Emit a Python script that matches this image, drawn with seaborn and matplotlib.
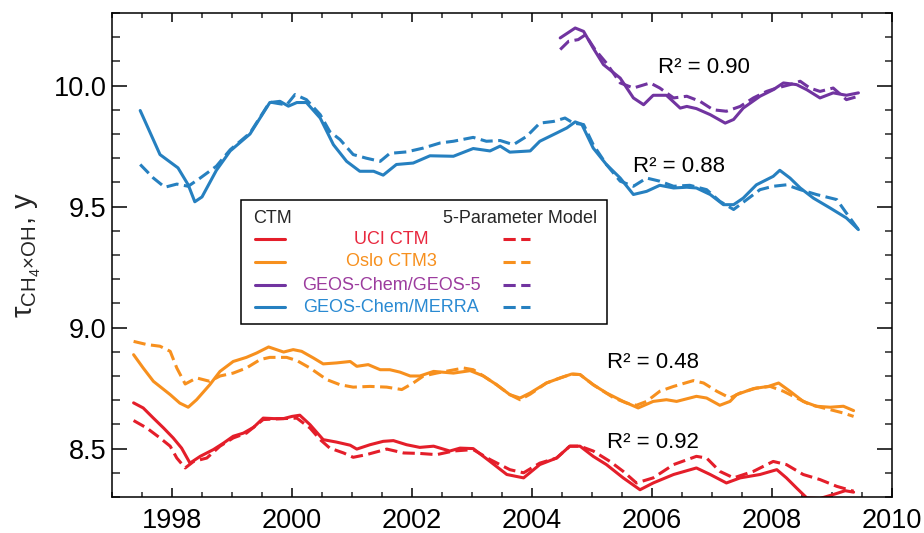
import numpy as np
import pandas as pd
import matplotlib
matplotlib.use("Agg")
import matplotlib.pyplot as plt
from matplotlib.ticker import MultipleLocator, FormatStrFormatter
from matplotlib.patches import Rectangle
from matplotlib.lines import Line2D
import seaborn as sns

# ---------------- data ----------------
uci_ctm_x = [1997.36,1997.52,1997.69,1997.86,1998.02,1998.16,1998.30,1998.47,1998.69,1998.86,
             1999.02,1999.19,1999.36,1999.52,1999.69,1999.86,2000.00,2000.13,2000.30,2000.52,
             2000.74,2000.97,2001.08,2001.30,2001.52,2001.69,2001.91,2002.13,2002.36,2002.63,
             2002.80,2003.02,2003.30,2003.58,2003.86,2004.13,2004.41,2004.63,2004.80,2005.02,
             2005.24,2005.52,2005.80,2006.02,2006.36,2006.74,2006.97,2007.24,2007.47,2007.80,
             2008.08,2008.24,2008.41,2008.58,2008.80,2009.02,2009.22,2009.36]
uci_ctm_y = [8.689,8.668,8.626,8.585,8.544,8.502,8.440,8.468,8.496,8.523,
             8.551,8.564,8.588,8.626,8.624,8.624,8.633,8.638,8.599,8.537,
             8.527,8.514,8.498,8.516,8.530,8.533,8.516,8.505,8.510,8.490,
             8.502,8.500,8.447,8.393,8.379,8.434,8.461,8.510,8.510,8.468,
             8.434,8.379,8.330,8.358,8.393,8.420,8.393,8.358,8.379,8.393,
             8.413,8.379,8.337,8.296,8.294,8.310,8.326,8.320]

uci_model_x = [1997.36,1997.58,1997.80,1997.97,1998.08,1998.22,1998.36,1998.58,1998.80,1999.02,
               1999.24,1999.52,1999.86,2000.08,2000.30,2000.47,2000.63,2000.86,2001.02,2001.24,
               2001.58,2001.86,2002.13,2002.41,2002.69,2003.02,2003.30,2003.63,2003.86,2004.13,
               2004.41,2004.63,2004.80,2005.02,2005.30,2005.52,2005.74,2006.02,2006.36,2006.74,
               2006.91,2007.13,2007.36,2007.69,2008.02,2008.24,2008.52,2008.80,2009.08,2009.36]
uci_model_y = [8.616,8.585,8.544,8.510,8.461,8.420,8.447,8.461,8.510,8.544,
               8.564,8.620,8.624,8.626,8.585,8.537,8.502,8.482,8.464,8.475,
               8.498,8.482,8.480,8.475,8.490,8.496,8.455,8.413,8.400,8.440,
               8.461,8.510,8.510,8.490,8.447,8.406,8.358,8.379,8.434,8.468,
               8.461,8.406,8.379,8.406,8.447,8.434,8.393,8.372,8.344,8.324]

oslo_ctm_x = [1997.36,1997.52,1997.69,1997.97,1998.13,1998.27,1998.41,1998.63,1998.80,1999.02,
              1999.24,1999.41,1999.61,1999.86,2000.02,2000.16,2000.36,2000.52,2000.74,2000.97,
              2001.08,2001.27,2001.47,2001.63,2001.80,2001.97,2002.13,2002.36,2002.69,2002.97,
              2003.19,2003.41,2003.63,2003.80,2003.97,2004.24,2004.47,2004.66,2004.80,2005.02,
              2005.24,2005.52,2005.77,2006.02,2006.24,2006.41,2006.74,2006.91,2007.13,2007.30,
              2007.41,2007.69,2007.94,2008.11,2008.30,2008.52,2008.74,2008.97,2009.19,2009.36]
oslo_ctm_y = [8.888,8.833,8.778,8.723,8.688,8.671,8.702,8.764,8.819,8.860,
              8.877,8.895,8.920,8.899,8.909,8.902,8.874,8.850,8.854,8.860,
              8.840,8.847,8.826,8.826,8.816,8.800,8.800,8.819,8.812,8.822,
              8.800,8.764,8.723,8.709,8.730,8.771,8.792,8.808,8.806,8.764,
              8.730,8.695,8.668,8.695,8.702,8.695,8.716,8.709,8.679,8.695,
              8.723,8.748,8.757,8.771,8.737,8.695,8.675,8.671,8.675,8.657]

oslo_model_x = [1997.36,1997.58,1997.80,1997.97,1998.08,1998.22,1998.41,1998.63,1998.80,1999.02,
                1999.24,1999.47,1999.63,1999.91,2000.08,2000.30,2000.58,2000.80,2001.02,2001.30,
                2001.58,2001.83,2002.02,2002.19,2002.41,2002.86,2003.02,2003.19,2003.41,2003.63,
                2003.80,2003.97,2004.24,2004.47,2004.66,2004.80,2005.02,2005.36,2005.58,2005.74,
                2005.91,2006.13,2006.36,2006.69,2006.86,2007.08,2007.30,2007.47,2007.74,2007.97,
                2008.19,2008.47,2008.63,2008.97,2009.19,2009.36]
oslo_model_y = [8.943,8.930,8.923,8.902,8.833,8.767,8.792,8.778,8.800,8.812,
                8.833,8.868,8.877,8.877,8.864,8.833,8.785,8.764,8.754,8.757,
                8.754,8.744,8.771,8.800,8.812,8.833,8.826,8.800,8.764,8.723,
                8.702,8.725,8.771,8.792,8.808,8.806,8.764,8.710,8.688,8.679,
                8.695,8.737,8.757,8.781,8.771,8.737,8.709,8.730,8.750,8.757,
                8.737,8.702,8.682,8.661,8.647,8.633]

geos5_ctm_x = [2004.47,2004.72,2004.86,2005.02,2005.19,2005.47,2005.69,2005.86,2006.02,2006.24,
               2006.47,2006.58,2006.74,2006.97,2007.22,2007.36,2007.52,2007.80,2008.02,2008.19,
               2008.41,2008.58,2008.80,2009.02,2009.24,2009.44]
geos5_ctm_y = [10.197,10.238,10.224,10.155,10.087,10.031,9.949,9.921,9.960,9.960,
               9.907,9.914,9.905,9.880,9.845,9.860,9.907,9.956,9.983,10.011,
               10.004,9.983,9.949,9.970,9.960,9.970]

geos5_model_x = [2004.47,2004.61,2004.77,2004.89,2005.05,2005.24,2005.47,2005.69,2005.97,2006.13,
                 2006.36,2006.58,2006.80,2007.02,2007.24,2007.47,2007.69,2007.91,2008.08,2008.30,
                 2008.47,2008.63,2008.80,2009.02,2009.24,2009.44]
geos5_model_y = [10.149,10.183,10.190,10.210,10.149,10.093,10.011,9.990,10.011,9.990,
                 9.949,9.956,9.935,9.900,9.894,9.914,9.949,9.976,9.990,10.004,
                 10.018,9.990,9.976,9.990,9.942,9.956]

merra_ctm_x = [1997.47,1997.80,1998.10,1998.27,1998.38,1998.50,1998.74,1998.97,1999.30,1999.63,
               1999.80,1999.94,2000.08,2000.24,2000.47,2000.69,2000.91,2001.13,2001.36,2001.52,
               2001.74,2002.02,2002.30,2002.69,2003.02,2003.30,2003.47,2003.63,2003.97,2004.13,
               2004.41,2004.58,2004.72,2004.83,2005.02,2005.24,2005.47,2005.69,2005.91,2006.13,
               2006.36,2006.58,2006.74,2006.97,2007.19,2007.36,2007.52,2007.74,2008.02,2008.13,
               2008.30,2008.47,2008.69,2008.97,2009.24,2009.44]
merra_ctm_y = [9.897,9.715,9.660,9.590,9.520,9.540,9.650,9.730,9.800,9.930,
               9.935,9.915,9.930,9.930,9.866,9.756,9.687,9.646,9.646,9.630,
               9.674,9.680,9.710,9.708,9.740,9.730,9.750,9.725,9.730,9.770,
               9.804,9.825,9.850,9.840,9.742,9.674,9.618,9.550,9.563,9.588,
               9.577,9.580,9.577,9.550,9.508,9.508,9.535,9.590,9.625,9.650,
               9.618,9.577,9.535,9.494,9.453,9.405]

merra_model_x = [1997.47,1997.69,1997.88,1998.08,1998.27,1998.47,1998.74,1998.97,1999.30,1999.63,
                 1999.91,2000.05,2000.24,2000.47,2000.63,2000.80,2001.02,2001.24,2001.47,2001.63,
                 2001.91,2002.19,2002.47,2002.69,2003.02,2003.24,2003.47,2003.69,2003.91,2004.13,
                 2004.36,2004.55,2004.69,2004.86,2005.02,2005.24,2005.47,2005.69,2005.91,2006.13,
                 2006.36,2006.63,2006.91,2007.13,2007.36,2007.58,2007.80,2008.02,2008.24,2008.47,
                 2008.74,2009.08,2009.22,2009.44]
merra_model_y = [9.674,9.618,9.580,9.593,9.584,9.618,9.667,9.735,9.804,9.932,
                 9.920,9.963,9.942,9.880,9.810,9.777,9.715,9.700,9.687,9.720,
                 9.726,9.742,9.763,9.770,9.786,9.770,9.773,9.756,9.790,9.845,
                 9.852,9.866,9.845,9.839,9.756,9.674,9.605,9.584,9.618,9.605,
                 9.584,9.588,9.570,9.522,9.488,9.529,9.570,9.584,9.590,9.570,
                 9.550,9.529,9.480,9.405]

models = ["UCI CTM", "Oslo CTM3", "GEOS-Chem/GEOS-5", "GEOS-Chem/MERRA"]
r2_labels = ["R\u00b2 = 0.92", "R\u00b2 = 0.48", "R\u00b2 = 0.90", "R\u00b2 = 0.88"]
r2_x = [2005.25, 2005.25, 2006.1, 2005.68]
r2_y = [8.527, 8.857, 10.074, 9.667]
x_ticks = [1998, 2000, 2002, 2004, 2006, 2008, 2010]
y_ticks = [8.5, 9.0, 9.5, 10.0]

line_colors = {"UCI CTM": "#E41E2A", "Oslo CTM3": "#F7901E",
               "GEOS-Chem/GEOS-5": "#7134A0", "GEOS-Chem/MERRA": "#2680C0"}
text_colors = {"UCI CTM": "#E8283E", "Oslo CTM3": "#F7901E",
               "GEOS-Chem/GEOS-5": "#9C3C9E", "GEOS-Chem/MERRA": "#2A8AD2"}

series = [
    ("UCI CTM", "CTM", uci_ctm_x, uci_ctm_y),
    ("UCI CTM", "5-Parameter Model", uci_model_x, uci_model_y),
    ("Oslo CTM3", "CTM", oslo_ctm_x, oslo_ctm_y),
    ("Oslo CTM3", "5-Parameter Model", oslo_model_x, oslo_model_y),
    ("GEOS-Chem/GEOS-5", "CTM", geos5_ctm_x, geos5_ctm_y),
    ("GEOS-Chem/GEOS-5", "5-Parameter Model", geos5_model_x, geos5_model_y),
    ("GEOS-Chem/MERRA", "CTM", merra_ctm_x, merra_ctm_y),
    ("GEOS-Chem/MERRA", "5-Parameter Model", merra_model_x, merra_model_y),
]
frames = [pd.DataFrame({"year": xs, "tau": ys, "model": m, "kind": k})
          for m, k, xs, ys in series]
df = pd.concat(frames, ignore_index=True)

# ---------------- style ----------------
sns.set_style("ticks")
plt.rcParams["font.family"] = ["Liberation Sans", "DejaVu Sans"]
plt.rcParams["mathtext.fontset"] = "custom"
plt.rcParams["mathtext.rm"] = "Liberation Sans"
plt.rcParams["mathtext.it"] = "Liberation Sans:italic"
plt.rcParams["mathtext.bf"] = "Liberation Sans:bold"

LW = 2.2
DASH = (4.0, 1.8)

fig = plt.figure(figsize=(9.24, 5.33), dpi=100)
ax = fig.add_axes([112 / 924, 36 / 533, 780 / 924, 484 / 533])

sns.lineplot(data=df, x="year", y="tau", hue="model", style="kind",
             hue_order=models, style_order=["CTM", "5-Parameter Model"],
             palette=line_colors, dashes={"CTM": "", "5-Parameter Model": DASH},
             estimator=None, sort=False, linewidth=LW, legend=False, ax=ax)

ax.set_xlim(1997, 2010)
ax.set_ylim(8.3, 10.3)
ax.set_xticks(x_ticks)
ax.set_yticks(y_ticks)
ax.xaxis.set_minor_locator(MultipleLocator(0.5))
ax.yaxis.set_minor_locator(MultipleLocator(0.1))
ax.yaxis.set_major_formatter(FormatStrFormatter("%.1f"))
ax.set_xlabel("")
ax.set_ylabel("$\\mathrm{\u03c4}_{\\mathrm{CH_4{\\times}OH}}$, y", fontsize=21)
ax.yaxis.set_label_coords(-0.088, 0.5)

for s in ax.spines.values():
    s.set_visible(True)
    s.set_linewidth(1.1)
    s.set_color("black")

ax.tick_params(axis="x", which="major", direction="in", length=6.5, width=1.1,
               top=True, bottom=True, labelsize=19.5, pad=8, colors="black")
ax.tick_params(axis="x", which="minor", direction="in", length=3.3, width=1.1,
               top=True, bottom=True)
ax.tick_params(axis="y", which="major", direction="in", length=11, width=1.1,
               left=True, right=True, labelsize=19.5, pad=4, colors="black")
ax.tick_params(axis="y", which="minor", direction="in", length=5.4, width=1.1,
               left=True, right=True)

# R^2 annotations
for lab, xx, yy in zip(r2_labels, r2_x, r2_y):
    ax.text(xx, yy, lab, fontsize=16, ha="left", va="center", color="black")

# ---------------- custom legend box ----------------
T = ax.transAxes
box = Rectangle((0.1654, 0.3574), 0.6346 - 0.1654, 0.6136 - 0.3574, transform=T,
                facecolor="white", edgecolor="black", linewidth=1.1, zorder=5)
ax.add_patch(box)
ax.text(0.1808, 0.5744, "CTM", transform=T, fontsize=13, ha="left", va="center", zorder=6)
ax.text(0.6218, 0.5744, "5-Parameter Model", transform=T, fontsize=13, ha="right",
        va="center", zorder=6)
row_y = [0.5324, 0.4862, 0.4380, 0.3919]
for m, ry in zip(models, row_y):
    ax.add_line(Line2D([0.1833, 0.2218], [ry, ry], transform=T, color=line_colors[m],
                       lw=LW, zorder=6))
    ax.text(0.3577, ry, m, transform=T, fontsize=13, ha="center", va="center",
            color=text_colors[m], zorder=6)
    ax.add_line(Line2D([0.5013, 0.5359], [ry, ry], transform=T, color=line_colors[m],
                       lw=LW, dashes=DASH, zorder=6))

fig.savefig("out.png", dpi=100)
